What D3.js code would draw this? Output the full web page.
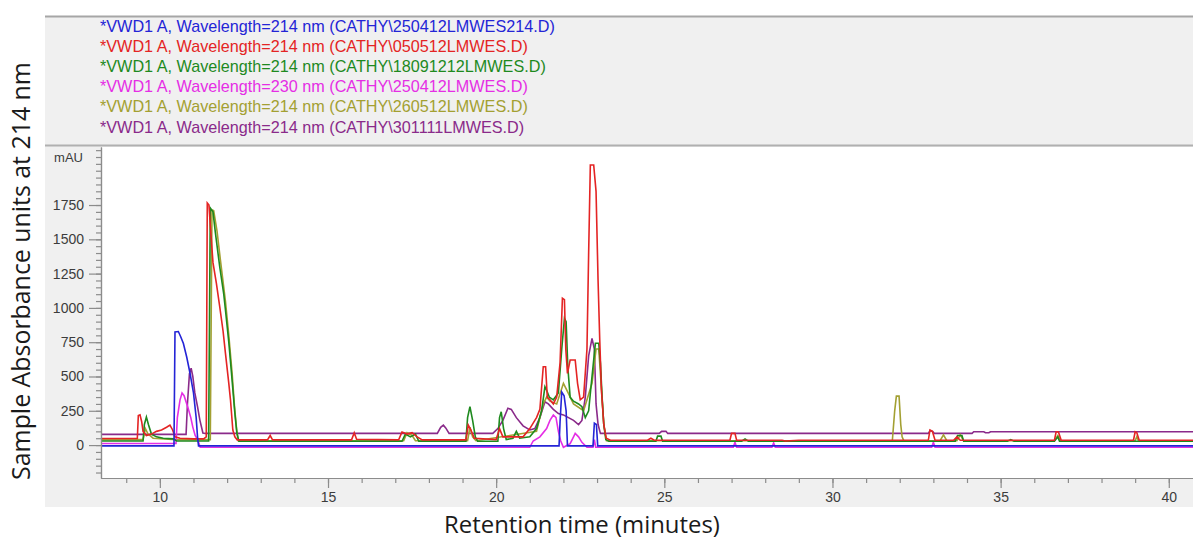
<!DOCTYPE html>
<html>
<head>
<meta charset="utf-8">
<script src="https://cdn.jsdelivr.net/npm/d3@7"></script>
<style>
  html, body { margin: 0; padding: 0; background: #ffffff; }
  svg { display: block; }
</style>
</head>
<body>
<svg id="chart" width="1193" height="542"></svg>
<script>
// ---- Legend entries (one per detector run) ----
const traceLabels = [
  "*VWD1 A, Wavelength=214 nm (CATHY\\250412LMWES214.D)",
  "*VWD1 A, Wavelength=214 nm (CATHY\\050512LMWES.D)",
  "*VWD1 A, Wavelength=214 nm (CATHY\\18091212LMWES.D)",
  "*VWD1 A, Wavelength=230 nm (CATHY\\250412LMWES.D)",
  "*VWD1 A, Wavelength=214 nm (CATHY\\260512LMWES.D)",
  "*VWD1 A, Wavelength=214 nm (CATHY\\301111LMWES.D)"
];
const traceColors = ["#2424d6", "#e42424", "#1e8a1e", "#e52ee5", "#a3a032", "#8a2a8a"];

// ---- Traces: [retention time (min), absorbance (mAU)] ----
const trace250412_214 = [
  [8.25,-6],[10.42,-6],[10.45,825],[10.55,828],[10.62,790],[10.7,740],[10.8,640],[10.9,520],
  [11.0,380],[11.08,200],[11.12,60],[11.15,-6],[21.87,-6],[21.9,170],[21.95,387],[22.02,360],
  [22.08,250],[22.12,-6],[22.88,-6],[22.92,160],[22.98,150],[23.02,-6],[40.72,-6]
];
const trace050512 = [
  [8.25,48],[9.33,48],[9.36,215],[9.41,220],[9.46,170],[9.5,100],[9.6,70],[9.75,80],[9.9,100],
  [10.05,110],[10.2,130],[10.3,146],[10.38,110],[10.45,60],[10.6,50],[11.0,45],[11.3,45],
  [11.38,60],[11.41,1765],[11.46,1750],[11.5,1600],[11.58,1330],[11.68,1180],[11.78,1010],
  [11.88,830],[11.95,670],[12.05,450],[12.1,330],[12.17,110],[12.23,60],[12.3,38],[13.2,38],
  [13.28,70],[13.35,38],[15.7,38],[15.78,90],[15.85,42],[17.1,38],[17.2,95],[17.35,80],[17.5,90],
  [17.65,60],[17.8,38],[19.1,38],[19.17,146],[19.25,110],[19.35,50],[20.0,40],[20.1,120],
  [20.2,60],[20.8,60],[21.0,120],[21.1,160],[21.2,200],[21.3,260],[21.4,571],[21.47,571],
  [21.52,350],[21.6,330],[21.7,300],[21.8,350],[21.9,600],[21.97,1070],[22.03,1060],[22.07,700],
  [22.12,523],[22.2,620],[22.35,620],[22.42,450],[22.5,330],[22.6,350],[22.7,700],[22.75,1400],
  [22.8,2042],[22.9,2042],[22.97,1850],[23.03,1200],[23.08,766],[23.13,400],[23.2,150],
  [23.27,50],[23.4,35],[24.5,35],[24.6,50],[24.7,35],[26.95,35],[27.0,85],[27.1,85],[27.15,35],
  [28.5,35],[28.6,30],[29.0,35],[32.85,35],[32.9,110],[32.97,100],[33.05,35],[33.6,35],
  [33.7,60],[33.8,35],[36.6,35],[36.65,97],[36.72,95],[36.8,35],[38.95,35],[39.0,97],
  [39.05,90],[39.12,35],[40.72,35]
];
const trace18091212 = [
  [8.25,30],[9.5,30],[9.54,150],[9.6,204],[9.66,150],[9.75,80],[9.9,60],[10.1,50],[10.4,45],
  [10.5,30],[11.45,30],[11.5,1728],[11.58,1700],[11.65,1550],[11.78,1300],[11.9,1100],
  [11.96,963],[12.05,750],[12.13,525],[12.23,233],[12.29,88],[12.35,28],[17.2,28],[17.3,80],
  [17.45,60],[17.6,80],[17.7,28],[19.1,28],[19.15,200],[19.22,280],[19.3,180],[19.38,60],
  [19.45,28],[20.05,28],[20.1,200],[20.15,243],[20.22,120],[20.3,40],[20.5,50],[20.6,100],
  [20.7,50],[21.0,60],[21.2,120],[21.35,250],[21.45,425],[21.5,400],[21.58,350],[21.7,330],
  [21.85,380],[21.95,700],[22.03,924],[22.08,900],[22.13,571],[22.2,348],[22.3,320],[22.45,300],
  [22.55,280],[22.65,200],[22.75,250],[22.85,500],[22.95,742],[23.05,742],[23.1,600],
  [23.15,350],[23.2,150],[23.26,40],[23.35,28],[24.75,28],[24.8,65],[24.9,65],[24.95,28],
  [27.3,28],[27.4,45],[27.5,28],[33.65,28],[33.72,70],[33.85,70],[33.9,28],[35.2,28],[35.3,40],
  [35.4,28],[36.6,28],[36.7,60],[36.75,28],[40.72,28]
];
const trace250412_230 = [
  [8.25,12],[10.48,12],[10.52,200],[10.6,330],[10.66,380],[10.72,360],[10.83,277],[10.92,200],
  [10.98,131],[11.05,70],[11.13,36],[11.2,-16],[21.0,-16],[21.1,30],[21.3,60],[21.5,120],
  [21.6,180],[21.7,219],[21.78,200],[21.85,100],[21.92,30],[22.0,-16],[22.2,10],[22.3,60],
  [22.35,85],[22.45,60],[22.55,20],[22.7,-16],[22.88,-16],[22.92,40],[22.96,-16],[27.05,-16],
  [27.1,20],[27.15,-16],[28.2,-16],[28.25,15],[28.3,-16],[32.95,-16],[33.0,20],[33.05,-16],
  [40.72,-16]
];
const trace260512 = [
  [8.25,40],[9.5,40],[9.57,120],[9.65,80],[9.8,50],[10.5,40],[11.5,40],[11.55,1715],[11.6,1710],
  [11.7,1560],[11.8,1350],[11.95,1050],[12.05,800],[12.15,520],[12.22,280],[12.28,120],
  [12.33,32],[17.25,32],[17.35,90],[17.5,70],[17.6,32],[19.15,32],[19.22,130],[19.3,60],
  [19.4,32],[21.2,100],[21.4,300],[21.5,350],[21.6,320],[21.8,300],[22.0,450],[22.1,400],
  [22.3,300],[22.6,250],[22.85,450],[22.97,700],[23.05,700],[23.12,450],[23.2,150],[23.28,32],
  [31.78,32],[31.85,250],[31.9,357],[31.98,357],[32.03,150],[32.07,60],[32.12,32],[33.2,32],
  [33.3,75],[33.4,32],[33.7,32],[33.8,75],[33.9,32],[36.6,32],[36.7,70],[36.78,32],[39.0,32],
  [39.05,60],[39.1,32],[40.72,32]
];
const trace301111 = [
  [8.25,78],[10.78,78],[10.82,300],[10.88,520],[10.93,560],[10.98,500],[11.04,380],[11.12,280],
  [11.19,182],[11.28,88],[11.35,85],[18.25,85],[18.35,130],[18.43,145],[18.5,125],[18.6,85],
  [19.9,85],[20.05,120],[20.2,180],[20.35,268],[20.45,260],[20.6,200],[20.8,140],[21.0,110],
  [21.15,120],[21.3,200],[21.45,316],[21.55,300],[21.7,260],[21.85,230],[22.0,220],[22.15,200],
  [22.3,180],[22.45,150],[22.55,180],[22.65,350],[22.75,650],[22.85,778],[22.92,700],
  [22.97,300],[23.03,150],[23.1,85],[24.85,85],[24.92,100],[25.05,100],[25.1,85],[32.85,85],
  [32.9,105],[32.98,100],[33.03,85],[34.15,85],[34.2,97],[34.5,97],[34.55,90],[34.65,90],
  [34.7,97],[40.72,97]
];
const traces = [trace250412_214, trace050512, trace18091212, trace250412_230, trace260512, trace301111];

// ---- Axis ticks ----
const xMajorTicks = [10, 15, 20, 25, 30, 35, 40];
const yMajorTicks = [0, 250, 500, 750, 1000, 1250, 1500, 1750];
const xDomain = [8.25, 40.72];
const yDomain = [-240, 2173];
const yUnitLabel = "mAU";
const xTitle = "Retention time (minutes)";
const yTitle = "Sample Absorbance units at 214 nm";

// ---- Layout ----
const svg = d3.select("#chart");
const W = 1193, H = 542;
const plot = { left: 101, right: 1193, top: 147, bottom: 478 };
const panelBg = "#f0f0f0";

const x = d3.scaleLinear().domain(xDomain).range([plot.left, plot.right]);
const y = d3.scaleLinear().domain(yDomain).range([plot.bottom, plot.top]);

svg.append("rect").attr("width", W).attr("height", H).attr("fill", "#ffffff");

// legend panel
svg.append("rect").attr("x", 45).attr("y", 16).attr("width", W - 45).attr("height", 129).attr("fill", panelBg);
svg.append("line").attr("x1", 45).attr("x2", W).attr("y1", 16.5).attr("y2", 16.5)
  .attr("stroke", "#a6a6a6").attr("stroke-width", 2);

// plot panel
svg.append("rect").attr("x", 45).attr("y", 145).attr("width", W - 45).attr("height", 362).attr("fill", panelBg);
svg.append("line").attr("x1", 45).attr("x2", W).attr("y1", 145.5).attr("y2", 145.5)
  .attr("stroke", "#b0b0b0").attr("stroke-width", 2);
svg.append("rect").attr("x", plot.left).attr("y", plot.top)
  .attr("width", plot.right - plot.left).attr("height", plot.bottom - plot.top).attr("fill", "#ffffff");

// legend rows
const legend = svg.append("g").attr("font-family", "'Liberation Sans', Arial, sans-serif").attr("font-size", 16.2);
legend.selectAll("text").data(traceLabels).join("text")
  .attr("x", 100)
  .attr("y", (d, i) => 26 + i * 20.2 + 5.6)
  .attr("fill", (d, i) => traceColors[i])
  .text(d => d);

// traces
svg.append("clipPath").attr("id", "plotClip").append("rect")
  .attr("x", plot.left + 1).attr("y", plot.top)
  .attr("width", plot.right - plot.left).attr("height", plot.bottom - plot.top - 1);

const line = d3.line().x(d => x(d[0])).y(d => y(d[1])).curve(d3.curveLinear);
const drawOrder = [5, 4, 3, 2, 1, 0];
svg.append("g").attr("clip-path", "url(#plotClip)")
  .selectAll("path").data(drawOrder).join("path")
  .attr("d", i => line(traces[i]))
  .attr("fill", "none")
  .attr("stroke", i => traceColors[i])
  .attr("stroke-width", 1.6)
  .attr("stroke-linejoin", "miter");

// axes
const axisColor = "#8c8c8c";
const labelColor = "#3c3c3c";
const tickFont = "'Liberation Sans', Arial, sans-serif";

const yMinor = svg.append("g").attr("transform", `translate(${plot.left},0)`)
  .call(d3.axisLeft(y).tickValues(d3.range(-200, 2151, 50)).tickSize(5).tickSizeOuter(0).tickFormat(""));
const yMajor = svg.append("g").attr("transform", `translate(${plot.left},0)`)
  .call(d3.axisLeft(y).tickValues(yMajorTicks).tickSize(12).tickSizeOuter(0).tickPadding(5).tickFormat(d3.format("d")));
const xMinor = svg.append("g").attr("transform", `translate(0,${plot.bottom})`)
  .call(d3.axisBottom(x).tickValues(d3.range(9, 41, 1)).tickSize(5).tickSizeOuter(0).tickFormat(""));
const xMajor = svg.append("g").attr("transform", `translate(0,${plot.bottom})`)
  .call(d3.axisBottom(x).tickValues(xMajorTicks).tickSize(10).tickSizeOuter(0).tickPadding(4).tickFormat(d3.format("d")));

[yMinor, yMajor, xMinor, xMajor].forEach(g => {
  g.selectAll("path.domain").attr("stroke", axisColor).attr("stroke-width", 1.2);
  g.selectAll(".tick line").attr("stroke", axisColor).attr("stroke-width", 1.2);
  g.selectAll(".tick text").attr("fill", labelColor).attr("font-family", tickFont).attr("font-size", 14);
});

svg.append("text").attr("x", 83).attr("y", 162).attr("text-anchor", "end")
  .attr("font-family", tickFont).attr("font-size", 13).attr("fill", labelColor)
  .text(yUnitLabel);

// axis titles, sized to their span
function fitWidth(sel, target) {
  const base = parseFloat(sel.attr("font-size"));
  const w = sel.node().getComputedTextLength();
  if (w > 0) sel.attr("font-size", base * target / w);
}
const titleFont = "'Open Sans', 'Noto Sans', sans-serif";
const xt = svg.append("text").attr("x", 582).attr("y", 533).attr("text-anchor", "middle")
  .attr("font-family", titleFont).attr("font-size", 20).attr("fill", "#1a1a1a").text(xTitle);
fitWidth(xt, 276);
const yt = svg.append("text").attr("transform", "translate(30,271) rotate(-90)").attr("text-anchor", "middle")
  .attr("font-family", titleFont).attr("font-size", 20).attr("fill", "#1a1a1a").text(yTitle);
fitWidth(yt, 418);
</script>
</body>
</html>
